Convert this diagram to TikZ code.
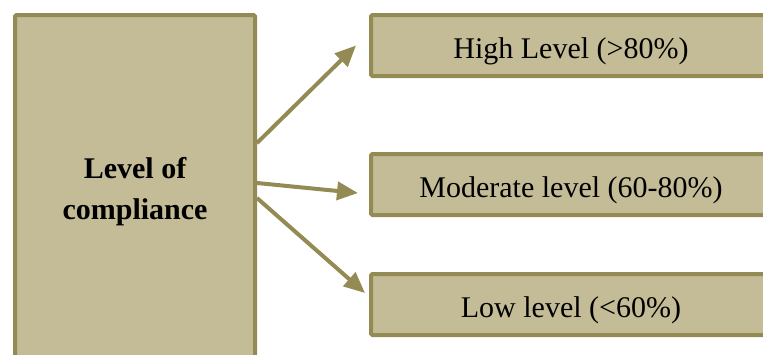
\documentclass[tikz,border=0pt]{standalone}
\usepackage{fontspec}
\setmainfont{Liberation Serif}
\usepackage{xcolor}
\usepackage{tikz}
\usetikzlibrary{positioning,calc,arrows.meta}

\definecolor{boxfill}{HTML}{C4BC96}
\definecolor{boxborder}{HTML}{948A54}

\begin{document}
\begin{tikzpicture}[x=1pt, y=-1pt,
	box/.style={draw=boxborder, fill=boxfill, line width=4pt, rounded corners=1.5pt,
		inner sep=0pt, font=\fontsize{30}{41}\selectfont},
	arrow/.style={-{Triangle[length=21pt, width=18pt]}, draw=boxborder, line width=4pt}]
	
	% Khung ảnh
	\useasboundingbox (0,0) rectangle (763,354);
	\clip (0,0) rectangle (763,354);
	
	% Hộp bên trái
	\node[box, minimum width=240pt, minimum height=353pt, align=center,
		font=\fontsize{30}{41}\selectfont\bfseries] (level) at (135, 191.5) {Level of\\compliance};
	
	% Ba hộp bên phải
	\foreach \name/\y/\txt in {
		high/45.5/High Level (>80\%),
		moderate/184.5/Moderate level (60-80\%),
		low/304.5/Low level (<60\%)
	} {
		\node[box, minimum width=400pt, minimum height=61pt, text height=26pt, text depth=0pt]
			(\name) at (571, \y) {\txt};
	}
	
	% Mũi tên
	\foreach \target/\dy/\dx/\ey in {
		high/48.5/-13/0,
		moderate/8.5/-11/-8.5,
		low/-6.5/-4/11.5
	} {
		\draw[arrow] ([yshift=\dy pt]level.east) -- ([xshift=\dx pt, yshift=\ey pt]\target.west);
	}
	
\end{tikzpicture}
\end{document}
